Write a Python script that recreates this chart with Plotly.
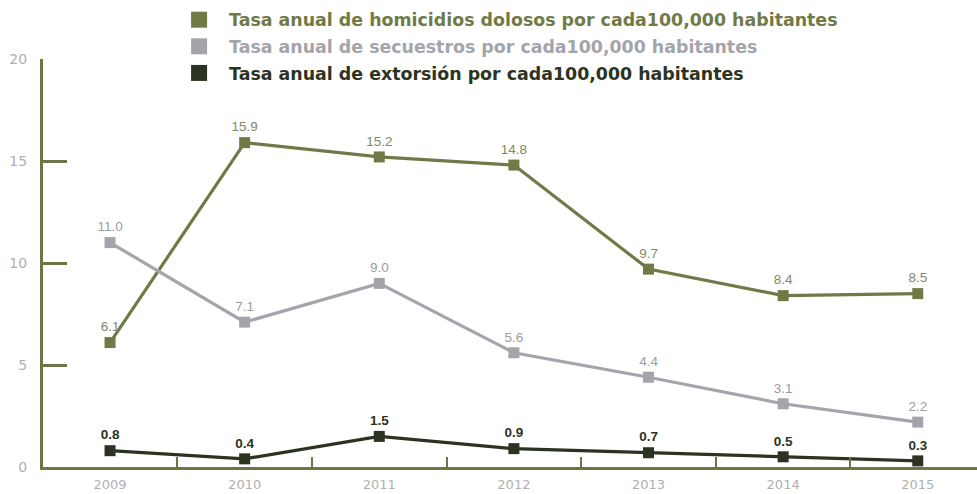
import plotly.graph_objects as go

years = [2009, 2010, 2011, 2012, 2013, 2014, 2015]
homicidios = [6.1, 15.9, 15.2, 14.8, 9.7, 8.4, 8.5]
secuestros = [11.0, 7.1, 9.0, 5.6, 4.4, 3.1, 2.2]
extorsion = [0.8, 0.4, 1.5, 0.9, 0.7, 0.5, 0.3]
names = [
    "Tasa anual de homicidios dolosos por cada100,000 habitantes",
    "Tasa anual de secuestros por cada100,000 habitantes",
    "Tasa anual de extorsión por cada100,000 habitantes",
]
y_ticks = [0, 5, 10, 15, 20]

c_hom = "#717a47"
c_sec = "#a4a4aa"
c_ext = "#2c3321"
lab_hom = "#82876a"
lab_sec = "#9c9ca2"
lab_ext = "#2c3321"
axis_c = "#6c7546"

fig = go.Figure()
series = [
    (homicidios, c_hom, lab_hom, names[0], False),
    (secuestros, c_sec, lab_sec, names[1], False),
    (extorsion, c_ext, lab_ext, names[2], True),
]
for vals, col, lcol, nm, bold in series:
    fig.add_trace(go.Scatter(
        x=years, y=vals, mode="lines+markers+text",
        line=dict(color=col, width=3.2),
        marker=dict(symbol="square", size=11, color=col),
        text=[f"{v:.1f}" for v in vals],
        textposition="top center",
        textfont=dict(family="Liberation Sans", size=13.5, color=lcol,
                      weight="bold" if bold else "normal"),
        cliponaxis=False, showlegend=False, hoverinfo="skip",
    ))

for i, (vals, col, lcol, nm, bold) in enumerate(series):
    fig.add_trace(go.Scatter(
        x=[None], y=[None], mode="markers",
        marker=dict(symbol="square", size=16, color=col),
        name=f"<span style='color:{col}'><b>{nm}</b></span>",
        legendgroup=f"g{i}",
        showlegend=True,
    ))

fig.update_layout(
    width=977, height=494,
    margin=dict(l=43, r=0, t=59, b=27),
    plot_bgcolor="white", paper_bgcolor="white",
    legend=dict(x=0.135, y=1.14, xanchor="left", yanchor="top",
                font=dict(family="DejaVu Sans", size=17.4),
                traceorder="grouped", tracegroupgap=1,
                itemwidth=50, bgcolor="rgba(0,0,0,0)"),
    xaxis=dict(
        range=[2008.502, 2015.44], tickvals=years, ticktext=[str(y) for y in years],
        ticks="", showgrid=False, zeroline=False, automargin=False,
        showline=True, linecolor=axis_c, linewidth=3,
        tickfont=dict(family="DejaVu Sans", size=13, color="#b0b0b0"),
        ticklabelstandoff=3,
        minor=dict(ticks="inside", tick0=2009.5, dtick=1, ticklen=10,
                   tickwidth=2, tickcolor=axis_c, showgrid=False),
    ),
    yaxis=dict(
        range=[0, 20], tickvals=y_ticks, ticks="inside", ticklen=24, tickwidth=3,
        tickcolor=axis_c, showgrid=False, zeroline=False, automargin=False,
        showline=True, linecolor=axis_c, linewidth=3,
        tickfont=dict(family="DejaVu Sans", size=14, color="#b0b0b0"),
        ticklabelstandoff=10,
    ),
)

fig.write_html("out.html", config={"displayModeBar": False},
               post_script="document.body.style.margin='0px';")
